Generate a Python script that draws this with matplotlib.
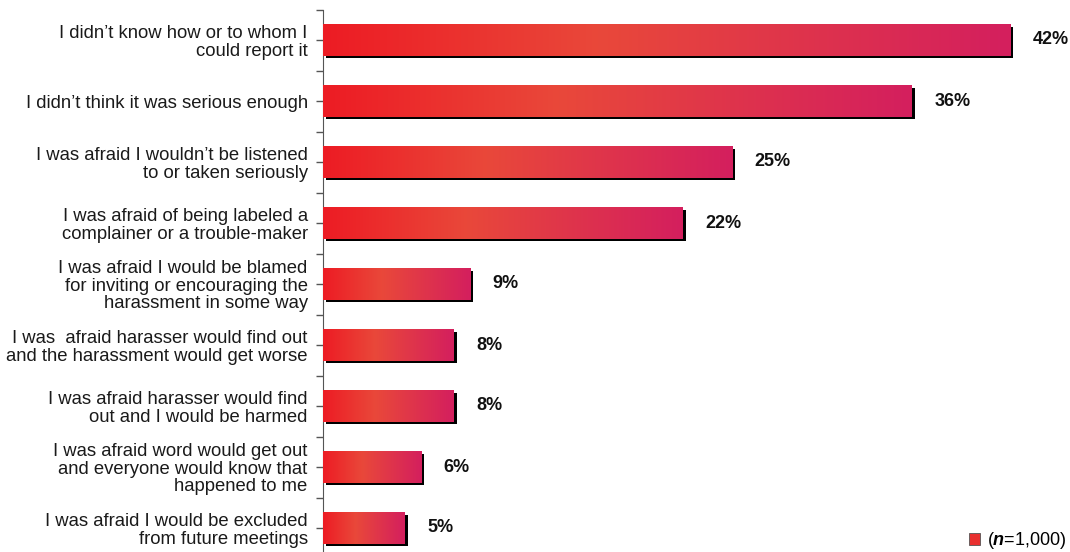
import matplotlib
matplotlib.use("Agg")
import matplotlib.pyplot as plt
import matplotlib.patheffects as pe
from matplotlib.colors import LinearSegmentedColormap
from matplotlib.patches import Patch
import numpy as np

plt.rcParams["font.family"] = ["Liberation Sans", "DejaVu Sans"]
plt.rcParams["mathtext.fontset"] = "custom"
plt.rcParams["mathtext.rm"] = "Liberation Sans"
plt.rcParams["mathtext.bfit"] = "Liberation Sans:italic:bold"

# Reasons for not reporting harassment
reasons = [
    "I didn\u2019t know how or to whom I\ncould report it",
    "I didn\u2019t think it was serious enough",
    "I was afraid I wouldn\u2019t be listened\nto or taken seriously",
    "I was afraid of being labeled a\ncomplainer or a trouble-maker",
    "I was afraid I would be blamed\nfor inviting or encouraging the\nharassment in some way",
    "I was  afraid harasser would find out\nand the harassment would get worse",
    "I was afraid harasser would find\nout and I would be harmed",
    "I was afraid word would get out\nand everyone would know that\nhappened to me",
    "I was afraid I would be excluded\nfrom future meetings",
]
percents = [42, 36, 25, 22, 9, 8, 8, 6, 5]
legendLabel = r"($\mathbfit{n}$=1,000)"

# gradient along each bar: red -> orange -> crimson
barCmap = LinearSegmentedColormap.from_list(
    "bars", [(0.0, "#ED1C24"), (0.4, "#E9483A"), (1.0, "#D41F5E")])
gradient = np.linspace(0, 1, 256).reshape(1, -1)

fig = plt.figure(figsize=(10.7, 5.52), dpi=100)
ax = fig.add_axes([323 / 1070, -6.5 / 552, 1 - 323 / 1070, 549 / 552])

ypos = np.arange(len(reasons))
bars = ax.barh(ypos, percents, height=0.51, color="#ED1C24", zorder=2,
               path_effects=[pe.SimplePatchShadow(offset=(2, -2), shadow_rgbFace="black", alpha=1.0),
                             pe.Normal()])

for bar, pct in zip(bars, percents):
    y0 = bar.get_y()
    im = ax.imshow(gradient, cmap=barCmap, aspect="auto", zorder=3,
                   extent=(0, pct, y0 + bar.get_height(), y0))
    im.set_clip_path(bar)
    ax.annotate(f"{pct}%", xy=(pct, bar.get_y() + bar.get_height() / 2),
                xytext=(16, 0), textcoords="offset points", va="center", ha="left",
                fontsize=13, fontweight="bold", color="#111111")

ax.set_xlim(0, 45.66)
ax.set_ylim(len(reasons) - 0.5, -0.5)
ax.set_yticks(ypos)
ax.set_yticklabels(reasons, fontsize=13.3, linespacing=1.05, color="#1a1a1a")
ax.set_yticks(np.arange(-0.5, len(reasons), 1.0), minor=True)
ax.tick_params(axis="y", which="both", length=5, width=1, color="#555555", pad=6)
ax.tick_params(axis="x", bottom=False, labelbottom=False)
for side in ["top", "right", "bottom"]:
    ax.spines[side].set_visible(False)
ax.spines["left"].set_color("#555555")
ax.set_facecolor("none")

handle = Patch(facecolor="#E8302F", edgecolor="#555555", linewidth=0.6)
fig.legend([handle], [legendLabel], loc="lower right", bbox_to_anchor=(1.012, -0.028),
           frameon=False, fontsize=13, handlelength=0.6, handleheight=0.6, handletextpad=0.4)

fig.savefig("out.png", dpi=100)
